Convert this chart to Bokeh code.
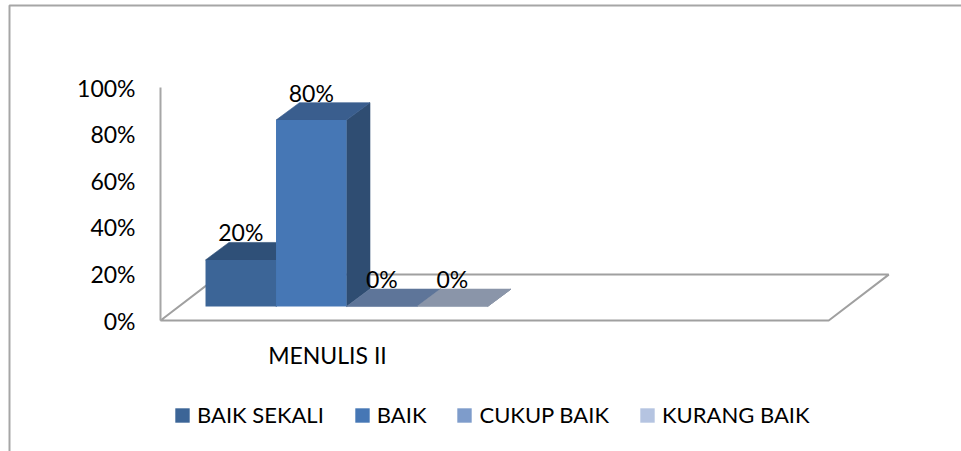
from bokeh.plotting import figure
from bokeh.models import Range1d, FixedTicker, Legend, LegendItem, BoxAnnotation
from bokeh.core.properties import value
from bokeh.embed import file_html
from bokeh.resources import INLINE

# ---- data ----
CATEGORY = "MENULIS II"
SERIES = ["BAIK SEKALI", "BAIK", "CUKUP BAIK", "KURANG BAIK"]
VALUES = [20, 80, 0, 0]
Y_TICKS = [0, 20, 40, 60, 80, 100]
Y_TICK_LABELS = ["0%", "20%", "40%", "60%", "80%", "100%"]

# ---- styles ----
FRONT = ["#3C6597", "#4677B5", "#7E9CCB", "#B5C4E1"]
TOP = ["#2F5078", "#3A5E8E", "#5E7599", "#8A95A9"]
SIDE = ["#2B4668", "#2F4D72", "#4A5F80", "#6F7A8F"]
GREY = "#A0A0A0"
FONT = "Lato"
FS = "22px"
FS_NUM = "23px"

# 3-D projection constants (x in bar widths, y in percent)
BASE = 6.0
DX = 0.333
DY = 7.5
FLOOR_DX = 0.851
FLOOR_DY = 19.7
X_START, X_END = -2.908, 10.723
Y_START, Y_END = -56.22, 137.34
FLOOR_LEFT = -0.638
FLOOR_RIGHT = 8.84
CATEGORY_POS = 1.73

p = figure(width=961, height=451, output_backend="svg", toolbar_location=None,
           x_range=Range1d(X_START, X_END), y_range=Range1d(Y_START, Y_END),
           min_border=0)
p.xgrid.visible = False
p.ygrid.visible = False
p.outline_line_color = None
p.background_fill_color = "white"
p.border_fill_color = "white"

# outer chart-area border (left and top edges visible)
p.add_layout(BoxAnnotation(left=9, top=5, right=2000, bottom=2000,
                           left_units="canvas", right_units="canvas",
                           top_units="canvas", bottom_units="canvas",
                           fill_color=None, fill_alpha=0,
                           line_color="#A6A6A6", line_width=2, line_alpha=1))

# floor
p.patch(x=[FLOOR_LEFT, FLOOR_RIGHT, FLOOR_RIGHT + FLOOR_DX, FLOOR_LEFT + FLOOR_DX],
        y=[0, 0, FLOOR_DY, FLOOR_DY], fill_color=None, line_color=GREY, line_width=2)

items = []
for i, (name, v) in enumerate(zip(SERIES, VALUES)):
    x0, x1 = i, i + 1
    b, t = BASE, BASE + v
    p.patch(x=[x1, x1 + DX, x1 + DX, x1], y=[b, b + DY, t + DY, t],
            fill_color=SIDE[i], line_color=SIDE[i], line_width=0.6)
    p.patch(x=[x0, x1, x1 + DX, x0 + DX], y=[t, t, t + DY, t + DY],
            fill_color=TOP[i], line_color=TOP[i], line_width=0.6)
    front = p.quad(left=x0, right=x1, bottom=b, top=t,
                   fill_color=FRONT[i], line_color=None)
    items.append(LegendItem(label=name, renderers=[front]))

# data labels
p.text(x=[i + 0.5 for i in range(len(VALUES))],
       y=[BASE + v + DY for v in VALUES],
       text=[f"{v}%" for v in VALUES],
       text_align="center", text_baseline="alphabetic", y_offset=-10,
       text_font=value(FONT), text_font_size=value(FS_NUM), text_color="#000000")

# y axis, drawn at the floor's left edge
ya = p.yaxis[0]
ya.fixed_location = FLOOR_LEFT
ya.ticker = FixedTicker(ticks=Y_TICKS)
ya.major_label_overrides = dict(zip(Y_TICKS, Y_TICK_LABELS))
ya.bounds = (Y_TICKS[0], Y_TICKS[-1])
ya.axis_line_color = "#A6A6A6"
ya.axis_line_width = 2
ya.major_tick_out = 0
ya.major_tick_in = 0
ya.minor_tick_out = 0
ya.minor_tick_in = 0
ya.major_label_standoff = 25
ya.major_label_text_font = FONT
ya.major_label_text_font_size = FS_NUM
ya.major_label_text_color = "#000000"

# x axis (category), drawn at the 0% floor line
xa = p.xaxis[0]
xa.fixed_location = 0
xa.ticker = FixedTicker(ticks=[CATEGORY_POS])
xa.major_label_overrides = {CATEGORY_POS: CATEGORY}
xa.axis_line_color = None
xa.major_tick_out = 0
xa.major_tick_in = 0
xa.minor_tick_out = 0
xa.minor_tick_in = 0
xa.major_label_standoff = 20
xa.major_label_text_font = FONT
xa.major_label_text_font_size = FS_NUM
xa.major_label_text_color = "#000000"

legend = Legend(items=items, orientation="horizontal", location=(173, 23),
                glyph_width=18, glyph_height=18, label_standoff=6, spacing=29,
                padding=0, margin=0, border_line_color=None,
                background_fill_alpha=0,
                label_text_font=FONT, label_text_font_size=FS,
                label_text_color="#000000")
p.add_layout(legend, "center")

open("out.html", "w").write(file_html(p, INLINE))
